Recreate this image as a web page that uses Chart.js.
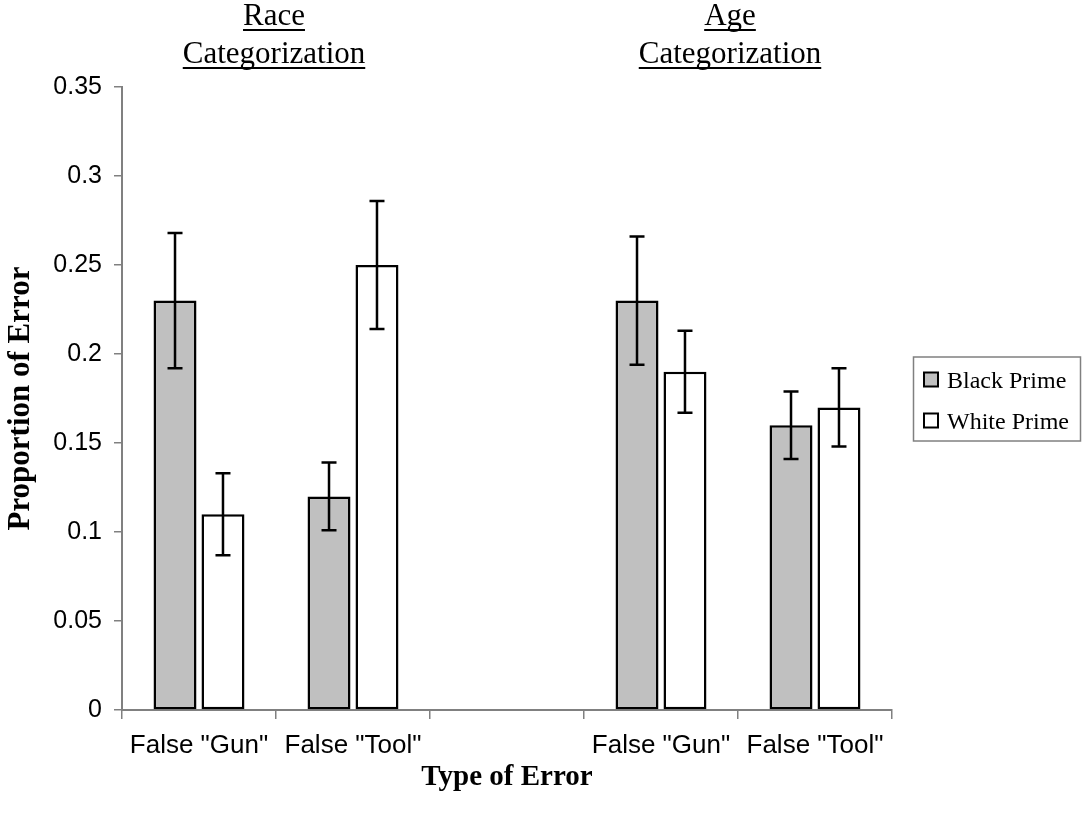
<!DOCTYPE html>
<html>
<head>
<meta charset="utf-8">
<script src="https://cdn.jsdelivr.net/npm/chart.js"></script>
<style>
body{margin:0;background:#fff}
#wrap{width:1082px;height:817px;position:relative}
</style>
</head>
<body>
<div id="wrap"><canvas id="chart" width="1082" height="817"></canvas></div>

<script>
/* =========================
   DATA
========================= */
const categories = ['False "Gun"', 'False "Tool"', "", 'False "Gun"', 'False "Tool"'];
const seriesNames = ["Black Prime", "White Prime"];

const blackPrime = [0.23, 0.12, null, 0.23, 0.16];
const whitePrime = [0.11, 0.25, null, 0.19, 0.17];

const blackErr = [0.038, 0.019, null, 0.036, 0.019];
const whiteErr = [0.023, 0.036, null, 0.023, 0.022];

const yTicks = [0, 0.05, 0.1, 0.15, 0.2, 0.25, 0.3, 0.35];
const yTickLabels = ["0", "0.05", "0.1", "0.15", "0.2", "0.25", "0.3", "0.35"];

const groupTitles = [["Race", "Categorization"], ["Age", "Categorization"]];

/* =========================
   STYLE
========================= */
const SANS = "'Liberation Sans', Arial, sans-serif";
const SERIF = "'Liberation Serif', 'Times New Roman', serif";
const AXIS_GRAY = "#808080";

/* =========================
   PLUGINS
========================= */
// error bars, drawn from the err arrays through the y scale
const errorBars = {
  id: "errorBars",
  afterDatasetsDraw(chart) {
    const ctx = chart.ctx;
    const y = chart.scales.y;
    chart.data.datasets.forEach((ds, di) => {
      const meta = chart.getDatasetMeta(di);
      meta.data.forEach((bar, i) => {
        const v = ds.data[i], e = ds.err[i];
        if (v == null || e == null) return;
        const top = y.getPixelForValue(v + e);
        const bot = y.getPixelForValue(v - e);
        ctx.save();
        ctx.strokeStyle = "#000";
        ctx.lineWidth = 2.5;
        ctx.beginPath();
        ctx.moveTo(bar.x, top); ctx.lineTo(bar.x, bot);
        ctx.moveTo(bar.x - 7.5, top); ctx.lineTo(bar.x + 7.5, top);
        ctx.moveTo(bar.x - 7.5, bot); ctx.lineTo(bar.x + 7.5, bot);
        ctx.stroke();
        ctx.restore();
      });
    });
  }
};

// underlined two-line titles over each pair of groups
const groupHeads = {
  id: "groupHeads",
  afterDraw(chart) {
    const ctx = chart.ctx;
    const x = chart.scales.x;
    const centers = [
      (x.getPixelForValue(0) + x.getPixelForValue(1)) / 2 - 2,
      (x.getPixelForValue(3) + x.getPixelForValue(4)) / 2 - 8
    ];
    ctx.save();
    ctx.font = "31px " + SERIF;
    ctx.fillStyle = "#000";
    ctx.textAlign = "center";
    ctx.textBaseline = "alphabetic";
    const baselines = [25, 63];
    const unders = [30, 68];
    groupTitles.forEach((lines, g) => {
      lines.forEach((t, li) => {
        ctx.fillText(t, centers[g], baselines[li]);
        const w = ctx.measureText(t).width;
        ctx.fillRect(centers[g] - w / 2, unders[li] - 1, w, 2);
      });
    });
    ctx.restore();
  }
};

// boxed legend on the right
const boxLegend = {
  id: "boxLegend",
  afterDraw(chart) {
    const ctx = chart.ctx;
    const area = chart.chartArea;
    const mid = (area.top + area.bottom) / 2;
    const bx = 913, bw = 167, bh = 84, by = mid - bh / 2;
    ctx.save();
    ctx.strokeStyle = AXIS_GRAY;
    ctx.lineWidth = 1.5;
    ctx.strokeRect(bx + 0.5, by + 0.5, bw, bh);
    ctx.font = "24px " + SERIF;
    ctx.textBaseline = "alphabetic";
    ctx.textAlign = "left";
    chart.data.datasets.forEach((ds, i) => {
      const rowY = by + 23 + i * 41;
      ctx.fillStyle = ds.backgroundColor;
      ctx.fillRect(bx + 11, rowY - 7, 14, 14);
      ctx.strokeStyle = "#000";
      ctx.lineWidth = 2;
      ctx.strokeRect(bx + 11, rowY - 7, 14, 14);
      ctx.fillStyle = "#000";
      ctx.fillText(ds.label, bx + 34, rowY + 8);
    });
    ctx.restore();
  }
};

/* =========================
   CHART
========================= */
new Chart(document.getElementById("chart"), {
  type: "bar",
  data: {
    labels: categories,
    datasets: [
      { label: seriesNames[0], data: blackPrime, err: blackErr,
        backgroundColor: "#C0C0C0", borderColor: "#000", borderWidth: 2.5, borderSkipped: false,
        categoryPercentage: 0.623, barPercentage: 0.896 },
      { label: seriesNames[1], data: whitePrime, err: whiteErr,
        backgroundColor: "#FFFFFF", borderColor: "#000", borderWidth: 2.5, borderSkipped: false,
        categoryPercentage: 0.623, barPercentage: 0.896 }
    ]
  },
  options: {
    responsive: false,
    animation: false,
    layout: { padding: { left: 0, top: 87, right: 190, bottom: 0 } },
    plugins: { legend: { display: false }, tooltip: { enabled: false } },
    scales: {
      x: {
        offset: true,
        grid: { offset: true, drawOnChartArea: false, drawTicks: true, tickLength: 9, color: AXIS_GRAY, lineWidth: 1.5 },
        border: { color: AXIS_GRAY, width: 2 },
        ticks: { color: "#000", font: { family: SANS, size: 26 }, padding: 11, maxRotation: 0, autoSkip: false },
        title: { display: true, text: "Type of Error", color: "#000",
          font: { family: SERIF, size: 29, weight: "bold" }, padding: { top: 0, bottom: 22 } },
        afterFit(s) { s.height = 107; }
      },
      y: {
        min: 0, max: 0.35,
        afterBuildTicks(s) { s.ticks = yTicks.map(v => ({ value: v })); },
        grid: { drawOnChartArea: false, drawTicks: true, tickLength: 8, color: AXIS_GRAY, lineWidth: 1.5 },
        border: { color: AXIS_GRAY, width: 2 },
        ticks: { color: "#000", font: { family: SANS, size: 25 }, padding: 12,
          callback: (v, i) => yTickLabels[i] },
        title: { display: true, text: "Proportion of Error", color: "#000",
          font: { family: SERIF, size: 31, weight: "bold" }, padding: { top: 2, bottom: 0 } },
        afterFit(s) { s.width = 122; }
      }
    }
  },
  plugins: [errorBars, groupHeads, boxLegend]
});
</script>
</body>
</html>
